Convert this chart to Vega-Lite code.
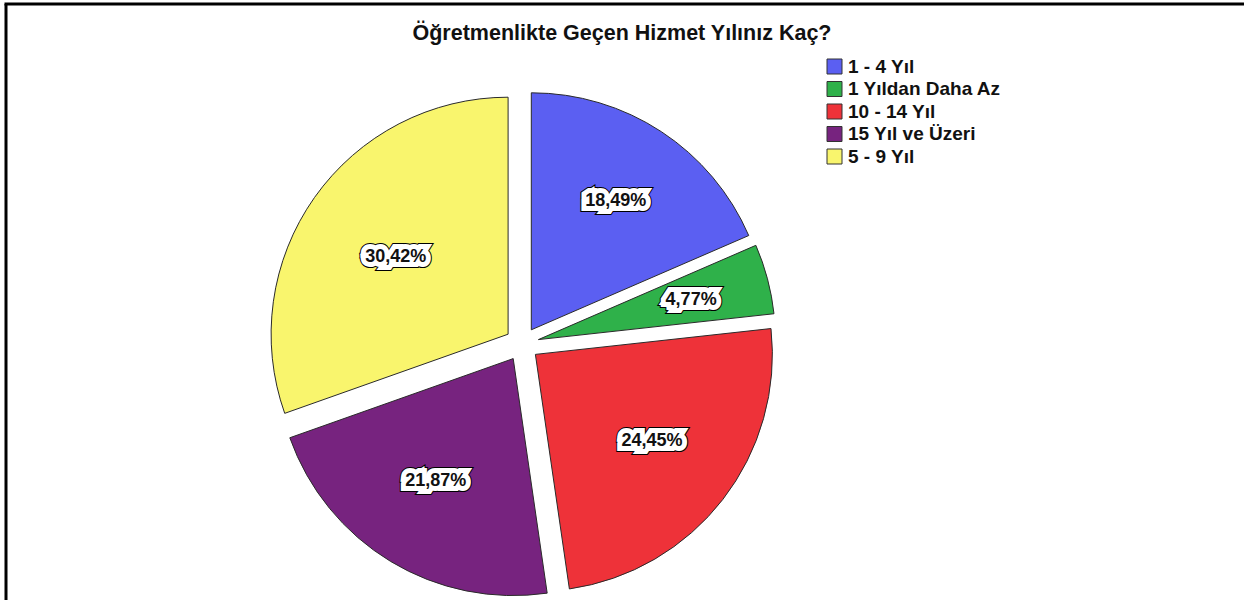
{
  "$schema": "https://vega.github.io/schema/vega-lite/v6.json",
  "width": 1238,
  "height": 596,
  "autosize": "none",
  "padding": {"left": 6, "top": 4, "right": 0, "bottom": 0},
  "background": "white",
  "title": {"text": "Öğretmenlikte Geçen Hizmet Yılınız Kaç?", "anchor": "middle", "orient": "top", "offset": -31, "dy": 22, "dx": -3, "baseline": "middle", "fontSize": 21.5, "font": "Liberation Sans", "fontWeight": "bold", "color": "#111"},
  "data": {"values": [
    {"cat": "1 - 4 Yıl", "pct": 18.49, "label": "18,49%"},
    {"cat": "1 Yıldan Daha Az", "pct": 4.77, "label": "4,77%"},
    {"cat": "10 - 14 Yıl", "pct": 24.45, "label": "24,45%"},
    {"cat": "15 Yıl ve Üzeri", "pct": 21.87, "label": "21,87%"},
    {"cat": "5 - 9 Yıl", "pct": 30.42, "label": "30,42%"}
  ]},
  "transform": [{"stack": "pct", "groupby": [], "sort": [{"field": "cat", "order": "ascending"}], "as": ["t0", "t1"]}],
  "layer": [
    {"data": {"values": [{}]},
     "mark": {"type": "rule", "stroke": "#000", "strokeWidth": 3, "strokeCap": "butt"},
     "encoding": {"x": {"value": -1.5}, "x2": {"value": 1238}, "y": {"value": 0}, "y2": {"value": 0}}},
    {"data": {"values": [{}]},
     "mark": {"type": "rule", "stroke": "#000", "strokeWidth": 3, "strokeCap": "butt"},
     "encoding": {"x": {"value": 0}, "x2": {"value": 0}, "y": {"value": 0}, "y2": {"value": 596}}},
    {"transform": [{"filter": "datum.cat === '1 - 4 Yıl'"}],
     "mark": {"type": "arc", "radius": 237, "xOffset": -93.7, "yOffset": 27.8, "stroke": "#2a2a2a", "strokeWidth": 1},
     "encoding": {"theta": {"field": "t0", "type": "quantitative", "scale": {"domain": [0, 100]}}, "theta2": {"field": "t1"},
       "color": {"field": "cat", "type": "nominal", "scale": {"domain": ["1 - 4 Yıl", "1 Yıldan Daha Az", "10 - 14 Yıl", "15 Yıl ve Üzeri", "5 - 9 Yıl"], "range": ["#5b5ff2", "#2fb14a", "#ee3239", "#77237f", "#f9f56d"]}, "legend": {"title": null}}}},
    {"transform": [{"filter": "datum.cat === '1 Yıldan Daha Az'"}],
     "mark": {"type": "arc", "radius": 237, "xOffset": -86.6, "yOffset": 37.6, "stroke": "#2a2a2a", "strokeWidth": 1},
     "encoding": {"theta": {"field": "t0", "type": "quantitative", "scale": {"domain": [0, 100]}}, "theta2": {"field": "t1"}, "color": {"field": "cat", "type": "nominal"}}},
    {"transform": [{"filter": "datum.cat === '10 - 14 Yıl'"}],
     "mark": {"type": "arc", "radius": 237, "xOffset": -89.6, "yOffset": 52.4, "stroke": "#2a2a2a", "strokeWidth": 1},
     "encoding": {"theta": {"field": "t0", "type": "quantitative", "scale": {"domain": [0, 100]}}, "theta2": {"field": "t1"}, "color": {"field": "cat", "type": "nominal"}}},
    {"transform": [{"filter": "datum.cat === '15 Yıl ve Üzeri'"}],
     "mark": {"type": "arc", "radius": 237, "xOffset": -111.8, "yOffset": 56.6, "stroke": "#2a2a2a", "strokeWidth": 1},
     "encoding": {"theta": {"field": "t0", "type": "quantitative", "scale": {"domain": [0, 100]}}, "theta2": {"field": "t1"}, "color": {"field": "cat", "type": "nominal"}}},
    {"transform": [{"filter": "datum.cat === '5 - 9 Yıl'"}],
     "mark": {"type": "arc", "radius": 237, "xOffset": -116.9, "yOffset": 32.2, "stroke": "#2a2a2a", "strokeWidth": 1},
     "encoding": {"theta": {"field": "t0", "type": "quantitative", "scale": {"domain": [0, 100]}}, "theta2": {"field": "t1"}, "color": {"field": "cat", "type": "nominal"}}},

    {"encoding": {"theta": {"field": "pct", "type": "quantitative", "stack": true, "scale": {"domain": [0, 100]}}, "order": {"field": "cat", "type": "ordinal", "sort": "ascending"}, "detail": {"field": "cat"},
       "text": {"condition": {"test": "datum.cat === '1 - 4 Yıl'", "field": "label"}, "value": ""}},
     "layer": [
       {"mark": {"type": "text", "radius": 154, "xOffset": -93.7, "yOffset": 27.8, "font": "Liberation Sans", "fontSize": 18, "fontWeight": "bold", "fill": "#000", "stroke": "#000", "strokeWidth": 12, "strokeJoin": "miter"}},
       {"mark": {"type": "text", "radius": 154, "xOffset": -93.7, "yOffset": 27.8, "font": "Liberation Sans", "fontSize": 18, "fontWeight": "bold", "fill": "#fff", "stroke": "#fff", "strokeWidth": 10, "strokeJoin": "miter"}},
       {"mark": {"type": "text", "radius": 154, "xOffset": -93.7, "yOffset": 27.8, "font": "Liberation Sans", "fontSize": 18, "fontWeight": "bold", "fill": "#111"}}
     ]},
    {"encoding": {"theta": {"field": "pct", "type": "quantitative", "stack": true, "scale": {"domain": [0, 100]}}, "order": {"field": "cat", "type": "ordinal", "sort": "ascending"}, "detail": {"field": "cat"},
       "text": {"condition": {"test": "datum.cat === '1 Yıldan Daha Az'", "field": "label"}, "value": ""}},
     "layer": [
       {"mark": {"type": "text", "radius": 158, "xOffset": -86.6, "yOffset": 38.6, "font": "Liberation Sans", "fontSize": 18, "fontWeight": "bold", "fill": "#000", "stroke": "#000", "strokeWidth": 12, "strokeJoin": "miter"}},
       {"mark": {"type": "text", "radius": 158, "xOffset": -86.6, "yOffset": 38.6, "font": "Liberation Sans", "fontSize": 18, "fontWeight": "bold", "fill": "#fff", "stroke": "#fff", "strokeWidth": 10, "strokeJoin": "miter"}},
       {"mark": {"type": "text", "radius": 158, "xOffset": -86.6, "yOffset": 38.6, "font": "Liberation Sans", "fontSize": 18, "fontWeight": "bold", "fill": "#111"}}
     ]},
    {"encoding": {"theta": {"field": "pct", "type": "quantitative", "stack": true, "scale": {"domain": [0, 100]}}, "order": {"field": "cat", "type": "ordinal", "sort": "ascending"}, "detail": {"field": "cat"},
       "text": {"condition": {"test": "datum.cat === '10 - 14 Yıl'", "field": "label"}, "value": ""}},
     "layer": [
       {"mark": {"type": "text", "radius": 140, "xOffset": -83.6, "yOffset": 53.4, "font": "Liberation Sans", "fontSize": 18, "fontWeight": "bold", "fill": "#000", "stroke": "#000", "strokeWidth": 12, "strokeJoin": "miter"}},
       {"mark": {"type": "text", "radius": 140, "xOffset": -83.6, "yOffset": 53.4, "font": "Liberation Sans", "fontSize": 18, "fontWeight": "bold", "fill": "#fff", "stroke": "#fff", "strokeWidth": 10, "strokeJoin": "miter"}},
       {"mark": {"type": "text", "radius": 140, "xOffset": -83.6, "yOffset": 53.4, "font": "Liberation Sans", "fontSize": 18, "fontWeight": "bold", "fill": "#111"}}
     ]},
    {"encoding": {"theta": {"field": "pct", "type": "quantitative", "stack": true, "scale": {"domain": [0, 100]}}, "order": {"field": "cat", "type": "ordinal", "sort": "ascending"}, "detail": {"field": "cat"},
       "text": {"condition": {"test": "datum.cat === '15 Yıl ve Üzeri'", "field": "label"}, "value": ""}},
     "layer": [
       {"mark": {"type": "text", "radius": 142, "xOffset": -115.8, "yOffset": 57.6, "font": "Liberation Sans", "fontSize": 18, "fontWeight": "bold", "fill": "#000", "stroke": "#000", "strokeWidth": 12, "strokeJoin": "miter"}},
       {"mark": {"type": "text", "radius": 142, "xOffset": -115.8, "yOffset": 57.6, "font": "Liberation Sans", "fontSize": 18, "fontWeight": "bold", "fill": "#fff", "stroke": "#fff", "strokeWidth": 10, "strokeJoin": "miter"}},
       {"mark": {"type": "text", "radius": 142, "xOffset": -115.8, "yOffset": 57.6, "font": "Liberation Sans", "fontSize": 18, "fontWeight": "bold", "fill": "#111"}}
     ]},
    {"encoding": {"theta": {"field": "pct", "type": "quantitative", "stack": true, "scale": {"domain": [0, 100]}}, "order": {"field": "cat", "type": "ordinal", "sort": "ascending"}, "detail": {"field": "cat"},
       "text": {"condition": {"test": "datum.cat === '5 - 9 Yıl'", "field": "label"}, "value": ""}},
     "layer": [
       {"mark": {"type": "text", "radius": 146, "xOffset": -109.9, "yOffset": 39.2, "font": "Liberation Sans", "fontSize": 18, "fontWeight": "bold", "fill": "#000", "stroke": "#000", "strokeWidth": 12, "strokeJoin": "miter"}},
       {"mark": {"type": "text", "radius": 146, "xOffset": -109.9, "yOffset": 39.2, "font": "Liberation Sans", "fontSize": 18, "fontWeight": "bold", "fill": "#fff", "stroke": "#fff", "strokeWidth": 10, "strokeJoin": "miter"}},
       {"mark": {"type": "text", "radius": 146, "xOffset": -109.9, "yOffset": 39.2, "font": "Liberation Sans", "fontSize": 18, "fontWeight": "bold", "fill": "#111"}}
     ]}
  ],
  "config": {
    "view": {"stroke": null},
    "legend": {"orient": "none", "legendX": 819, "legendY": 53, "symbolType": "square", "symbolSize": 225, "symbolStrokeColor": "#333", "symbolStrokeWidth": 1, "symbolOpacity": 1, "labelFont": "Liberation Sans", "labelFontSize": 19, "labelFontWeight": "bold", "labelColor": "#111", "labelOffset": 4, "rowPadding": 2.5, "padding": 0, "labelLimit": 400}
  }
}
